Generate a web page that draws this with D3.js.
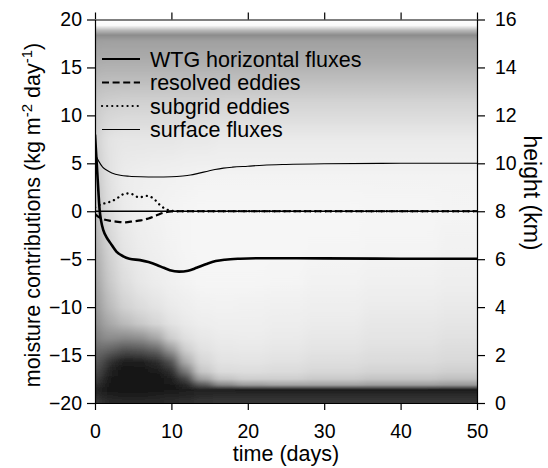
<!DOCTYPE html>
<html>
<head>
<meta charset="utf-8">
<script src="https://cdnjs.cloudflare.com/ajax/libs/d3/7.8.5/d3.min.js"></script>
<style>
  body { margin: 0; background: #fff; }
  svg text { font-family: "Liberation Sans", Arial, Helvetica, sans-serif; fill: #000; }
</style>
</head>
<body>
<svg id="chart" width="548" height="468"></svg>
<script>
// moisture budget lines (time in days, value in kg m-2 day-1)
const wtg = [
  [0, 8.0], [0.15, 6.0], [0.3, 4.0], [0.45, 2.0], [0.6, 0.2], [0.8, -1.0], [1.1, -2.0],
  [1.5, -2.7], [2, -3.3], [2.8, -4.2], [3.7, -4.7], [4.5, -4.95], [5.9, -5.1], [7, -5.3],
  [8.1, -5.6], [9, -5.9], [9.8, -6.15], [11, -6.3], [12.2, -6.2], [13.3, -5.9], [14.6, -5.5],
  [15.8, -5.2], [17, -5.05], [19, -4.95], [22, -4.9], [30, -4.92], [40, -4.95], [50, -4.95]
];
const resolved = [
  [0, -0.3], [0.5, -0.6], [1, -0.8], [2, -1.0], [3, -1.1], [4, -1.15], [5, -1.05], [6, -0.95],
  [7, -0.75], [8, -0.45], [9, -0.15], [10, -0.02], [11, 0], [50, 0]
];
const subgrid = [
  [0, 0.4], [0.7, 0.7], [1.4, 0.85], [2, 1.0], [2.8, 1.3], [3.4, 1.65], [4, 1.85], [4.6, 1.85],
  [5.2, 1.65], [5.7, 1.45], [6.2, 1.5], [6.8, 1.6], [7.3, 1.5], [7.9, 1.15], [8.5, 0.65],
  [9.2, 0.25], [10, 0.05], [11, 0], [50, 0]
];
const surface = [
  [0, 6.0], [0.5, 5.2], [1, 4.6], [1.5, 4.3], [2.2, 4.0], [3.3, 3.75], [4.5, 3.65], [6, 3.6],
  [8, 3.58], [10, 3.6], [11.5, 3.68], [12.5, 3.78], [13.5, 3.95], [14.6, 4.15], [15.7, 4.35],
  [16.8, 4.5], [18, 4.6], [20, 4.7], [22, 4.8], [25, 4.88], [30, 4.95], [40, 5.0], [50, 5.0]
];

const legendLabels = ["WTG horizontal fluxes", "resolved eddies", "subgrid eddies", "surface fluxes"];
const xTicks = [0, 10, 20, 30, 40, 50];
const yTicks = [-20, -15, -10, -5, 0, 5, 10, 15, 20];
const hTicks = [0, 2, 4, 6, 8, 10, 12, 14, 16];

// background field: grey level (0 black .. 255 white) by height (rows) and time (columns)
const fieldTimes = [0, 1, 2, 4, 6, 8, 10, 12, 14, 17, 20, 25, 30, 40, 50];
const fieldHeights = [16, 15.75, 15.55, 15.35, 15.1, 14.8, 14.3, 13.5, 12.5, 11, 9.5, 8, 6.5, 5, 4,
  3.3, 2.7, 2.2, 1.7, 1.3, 1.0, 0.75, 0.55, 0.35, 0.1];
const fieldGrey = [
  [255,255,255,255,255,255,255,255,255,255,255,255,255,255,255],
  [248,248,248,248,248,248,248,248,248,248,248,248,248,248,248],
  [185,185,185,185,185,185,185,185,185,185,185,185,185,185,185],
  [140,140,140,140,140,140,140,140,140,140,140,140,140,140,140],
  [158,160,160,160,160,160,160,160,160,160,160,160,160,160,160],
  [163,165,165,165,165,165,165,165,165,165,165,165,165,165,165],
  [170,172,172,172,172,172,172,172,172,172,172,172,172,172,172],
  [184,188,188,188,188,188,188,188,188,190,190,190,190,190,190],
  [200,206,208,210,210,210,210,210,210,212,212,212,212,212,212],
  [205,220,228,230,230,230,230,232,232,234,234,234,234,234,234],
  [195,214,228,236,238,240,241,242,243,243,243,243,243,243,243],
  [185,206,224,235,240,242,244,245,246,246,246,246,246,245,244],
  [172,196,215,230,236,240,243,245,246,246,246,246,245,244,242],
  [158,182,204,222,231,236,240,243,245,245,245,244,242,240,238],
  [146,170,190,210,220,227,234,238,241,242,241,240,238,235,233],
  [134,156,170,186,200,213,226,233,237,239,239,237,235,231,229],
  [120,138,140,136,142,164,205,224,231,235,236,234,231,228,225],
  [104,108, 95, 80, 85,100,150,206,225,231,232,230,227,224,221],
  [ 90, 75, 45, 28, 30, 42, 80,172,215,226,227,225,222,219,216],
  [ 78, 55, 28, 20, 20, 26, 45,120,200,219,221,219,215,211,207],
  [ 66, 42, 24, 19, 19, 22, 30, 70,160,196,206,206,201,196,191],
  [ 52, 34, 22, 20, 20, 22, 25, 40, 90,135,155,162,162,157,152],
  [ 40, 28, 22, 20, 20, 22, 25, 30, 35, 30, 28, 28, 28, 28, 28],
  [ 45, 35, 30, 28, 28, 30, 32, 35, 40, 42, 42, 42, 42, 42, 42],
  [ 55, 45, 40, 38, 38, 40, 42, 45, 50, 52, 52, 52, 52, 52, 52]
];

const svg = d3.select('#chart');
const plotLeft = 95, plotRight = 477, plotTop = 19.5, plotBottom = 403;
const tickFont = 19.5, labelFont = 21.5;

const x = d3.scaleLinear().domain([0, 50]).range([plotLeft, plotRight]);
const y = d3.scaleLinear().domain([-20, 20]).range([plotBottom, plotTop]);
const yh = d3.scaleLinear().domain([0, 16]).range([plotBottom, plotTop]);
const grey = v => d3.rgb(v, v, v).toString();

const defs = svg.append('defs');
defs.append('clipPath').attr('id', 'plotClip')
  .append('rect').attr('x', plotLeft).attr('y', plotTop)
  .attr('width', plotRight - plotLeft).attr('height', plotBottom - plotTop);
defs.append('filter').attr('id', 'soft')
  .attr('filterUnits', 'userSpaceOnUse')
  .attr('x', 0).attr('y', 0).attr('width', 548).attr('height', 468)
  .append('feGaussianBlur').attr('stdDeviation', '5 0');

// one vertical gradient per sampled time
const span = yh(0) - yh(16);
fieldTimes.forEach((t, i) => {
  const grad = defs.append('linearGradient').attr('id', 'col' + i)
    .attr('gradientUnits', 'userSpaceOnUse')
    .attr('x1', 0).attr('x2', 0).attr('y1', yh(16)).attr('y2', yh(0));
  grad.selectAll('stop').data(fieldHeights).join('stop')
    .attr('offset', h => (yh(h) - yh(16)) / span)
    .attr('stop-color', (h, j) => grey(fieldGrey[j][i]));
});

// column edges half way between samples, outer columns pushed past the frame
const xEdges = fieldTimes.map((t, i) => [
  i === 0 ? x(t) - 25 : (x(fieldTimes[i - 1]) + x(t)) / 2,
  i === fieldTimes.length - 1 ? x(t) + 25 : (x(t) + x(fieldTimes[i + 1])) / 2
]);

svg.append('g').attr('clip-path', 'url(#plotClip)')
  .append('g').attr('filter', 'url(#soft)')
  .selectAll('rect').data(fieldTimes).join('rect')
  .attr('x', (t, i) => xEdges[i][0])
  .attr('y', plotTop - 10)
  .attr('width', (t, i) => xEdges[i][1] - xEdges[i][0] + 0.6)
  .attr('height', plotBottom - plotTop + 20)
  .attr('fill', (t, i) => `url(#col${i})`)
  .attr('shape-rendering', 'crispEdges');

// zero reference line
svg.append('line')
  .attr('x1', x(0)).attr('x2', x(50)).attr('y1', y(0)).attr('y2', y(0))
  .attr('stroke', '#000').attr('stroke-width', 1.5);

const line = d3.line().x(d => x(d[0])).y(d => y(d[1])).curve(d3.curveMonotoneX);
const styles = [
  { data: wtg, width: 2.6, dash: null, cap: 'butt' },
  { data: resolved, width: 2.2, dash: '7,3.6', cap: 'butt' },
  { data: subgrid, width: 2.3, dash: '0.1,5', cap: 'round' },
  { data: surface, width: 1.1, dash: null, cap: 'butt' }
];
const plot = svg.append('g').attr('clip-path', 'url(#plotClip)');
styles.forEach(s => {
  plot.append('path').datum(s.data)
    .attr('d', line)
    .attr('fill', 'none')
    .attr('stroke', '#000')
    .attr('stroke-width', s.width)
    .attr('stroke-linecap', s.cap)
    .attr('stroke-dasharray', s.dash);
});

// legend
const legend = svg.append('g');
legendLabels.forEach((label, k) => {
  const ly = 59 + k * 23.5;
  const s = styles[k];
  legend.append('line')
    .attr('x1', 102).attr('x2', 140).attr('y1', ly).attr('y2', ly)
    .attr('stroke', '#000').attr('stroke-width', Math.min(s.width, 2.2))
    .attr('stroke-linecap', s.cap).attr('stroke-dasharray', s.dash);
  legend.append('text')
    .attr('x', 150).attr('y', ly).attr('dy', '0.35em')
    .style('font-size', labelFont + 'px')
    .text(label);
});

// axes
function styleAxis(g) {
  g.selectAll('path, line').attr('stroke', '#000').attr('stroke-width', 1.2);
  g.selectAll('text').style('font-size', tickFont + 'px').attr('fill', '#000')
    .style('font-family', '"Liberation Sans", Arial, sans-serif');
}
svg.append('g').attr('transform', `translate(0,${plotBottom})`)
  .call(d3.axisBottom(x).tickValues(xTicks).tickSize(7).tickPadding(14).tickSizeOuter(0))
  .call(styleAxis);
svg.append('g').attr('transform', `translate(0,${plotTop})`)
  .call(d3.axisTop(x).tickValues(xTicks).tickSize(7).tickFormat('').tickSizeOuter(0))
  .call(styleAxis);
svg.append('g').attr('transform', `translate(${plotLeft},0)`)
  .call(d3.axisLeft(y).tickValues(yTicks).tickSize(8).tickPadding(5).tickSizeOuter(0))
  .call(styleAxis);
svg.append('g').attr('transform', `translate(${plotRight},0)`)
  .call(d3.axisRight(yh).tickValues(hTicks).tickSize(8).tickPadding(10).tickSizeOuter(0))
  .call(styleAxis);

// axis titles
svg.append('text')
  .attr('x', (plotLeft + plotRight) / 2).attr('y', 461)
  .attr('text-anchor', 'middle')
  .style('font-size', labelFont + 'px')
  .text('time (days)');

const yTitle = svg.append('text')
  .attr('transform', 'translate(39.5,215) rotate(-90)')
  .attr('text-anchor', 'middle')
  .style('font-size', labelFont + 'px');
yTitle.append('tspan').text('moisture contributions (kg m');
yTitle.append('tspan').attr('dy', -8).style('font-size', '15px').text('-2');
yTitle.append('tspan').attr('dy', 8).text(' day');
yTitle.append('tspan').attr('dy', -8).style('font-size', '15px').text('-1');
yTitle.append('tspan').attr('dy', 8).text(')');

svg.append('text')
  .attr('transform', 'translate(524,193) rotate(90)')
  .attr('text-anchor', 'middle')
  .style('font-size', '23px')
  .text('height (km)');
</script>
</body>
</html>
